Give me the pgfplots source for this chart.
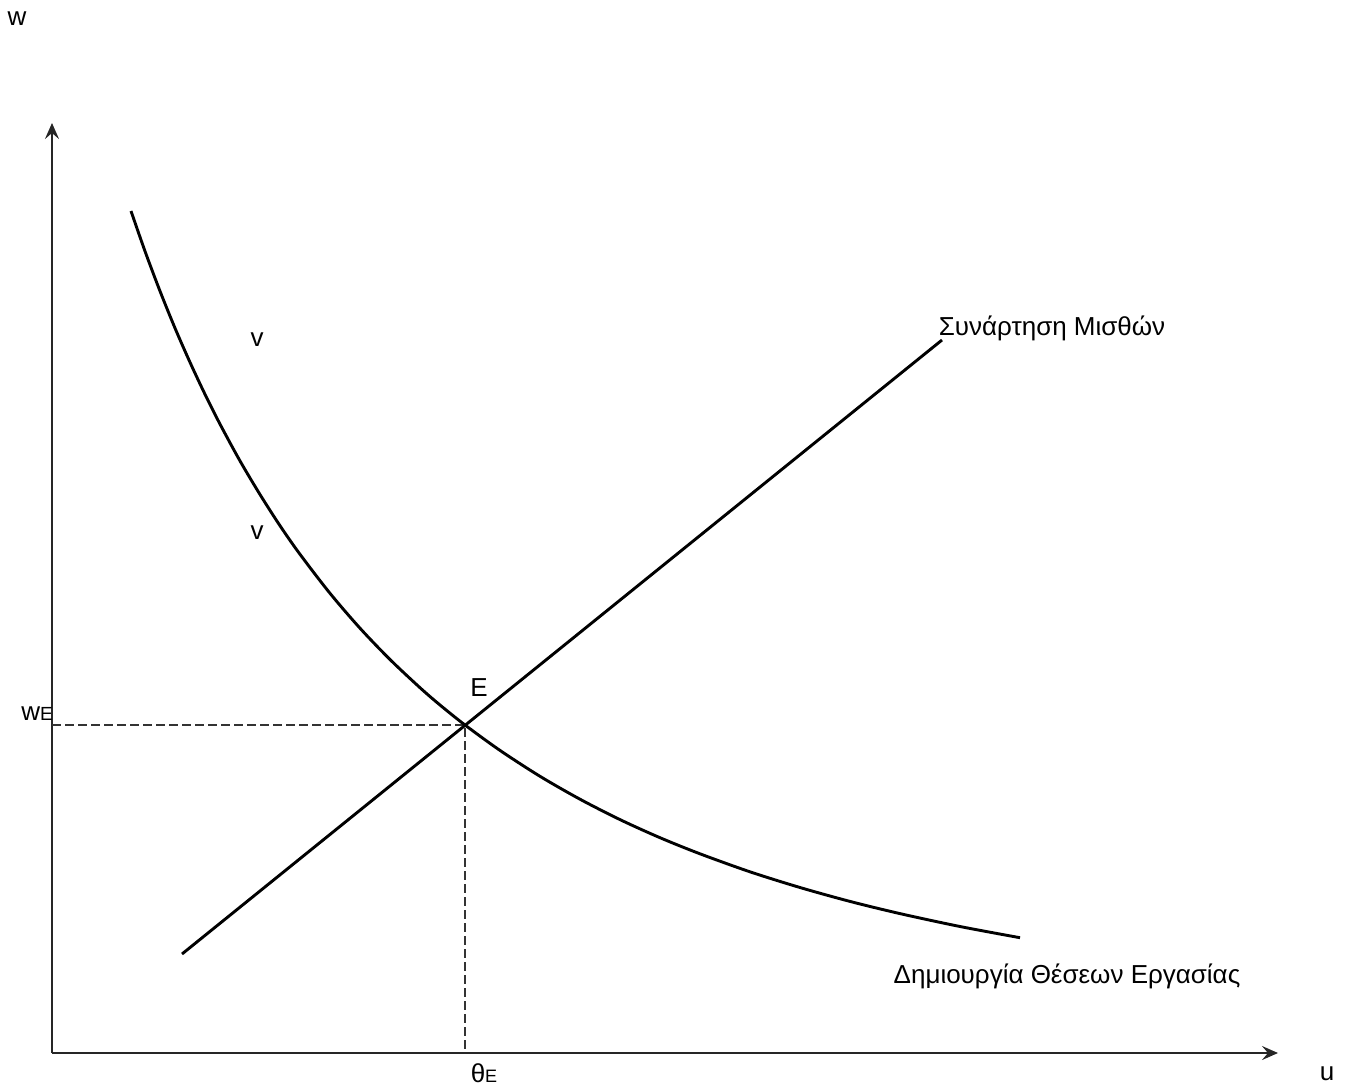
\documentclass[border=0pt]{standalone}
\usepackage{pgfplots}
\pgfplotsset{compat=1.18}
\usepackage{fontspec}
\setmainfont{Liberation Sans}
\usetikzlibrary{arrows.meta}

\newcommand{\lbl}{\fontsize{26}{30}\selectfont}

\begin{document}
\begin{tikzpicture}
\begin{axis}[%
scale only axis,
width=1351pt, height=1086pt,
xmin=0, xmax=1351,
ymin=0, ymax=1086,
y dir=reverse,
hide axis,
clip=false,
xtick=\empty, ytick=\empty,
]
% page frame
\path (axis cs:0,0) rectangle (axis cs:1351,1086);

% axes
\addplot[black!85, line width=2.2pt, -{Stealth[length=16pt,width=14pt,inset=6pt]}]
coordinates {(52,1053) (52,123)};
\addplot[black!85, line width=2.2pt, -{Stealth[length=16pt,width=14pt,inset=6pt]}]
coordinates {(52,1053) (1278,1053)};

% dashed guides
\addplot[black!80, line width=1.6pt, dash pattern=on 9pt off 4pt]
coordinates {(52,725) (465,725) (465,1053)};

% job creation curve
\addplot[black, line width=2.9pt, smooth] coordinates {
(131,211.0) (145,251.2) (160,291.1) (175,328.1) (190,362.3) (205,394.3)
(220,424.1) (240,460.9) (260,494.5) (280,525.7) (300,554.3) (330,593.3)
(360,628.2) (390,659.5) (420,687.7) (440,705.0) (465,725.0) (500,750.4)
(540,776.3) (580,799.2) (620,819.6) (660,837.7) (700,853.8) (750,871.8)
(800,887.5) (850,901.4) (900,913.6) (960,926.5) (1020,937.7)
};

% wage curve
\addplot[black, line width=2.9pt] coordinates {(182,954) (942,340)};

% labels
\node[font=\lbl] at (axis cs:17,19) {w};
\node[font=\lbl] at (axis cs:1327,1074) {u};
\node[font=\lbl, inner sep=0pt] at (axis cs:37,714) {w{\fontsize{19}{22}\selectfont E}};
\node[font=\lbl, inner sep=0pt] at (axis cs:484,1073) {θ{\fontsize{18}{20}\selectfont E}};
\node[font=\lbl] at (axis cs:479,688) {E};
\node[font=\lbl] at (axis cs:257,340) {v};
\node[font=\lbl] at (axis cs:257,533) {v};
\node[font=\lbl] at (axis cs:1052,328) {Συνάρτηση Μισθών};
\node[font=\lbl] at (axis cs:1067,976) {Δημιουργία Θέσεων Εργασίας};
\end{axis}
\end{tikzpicture}
\end{document}
